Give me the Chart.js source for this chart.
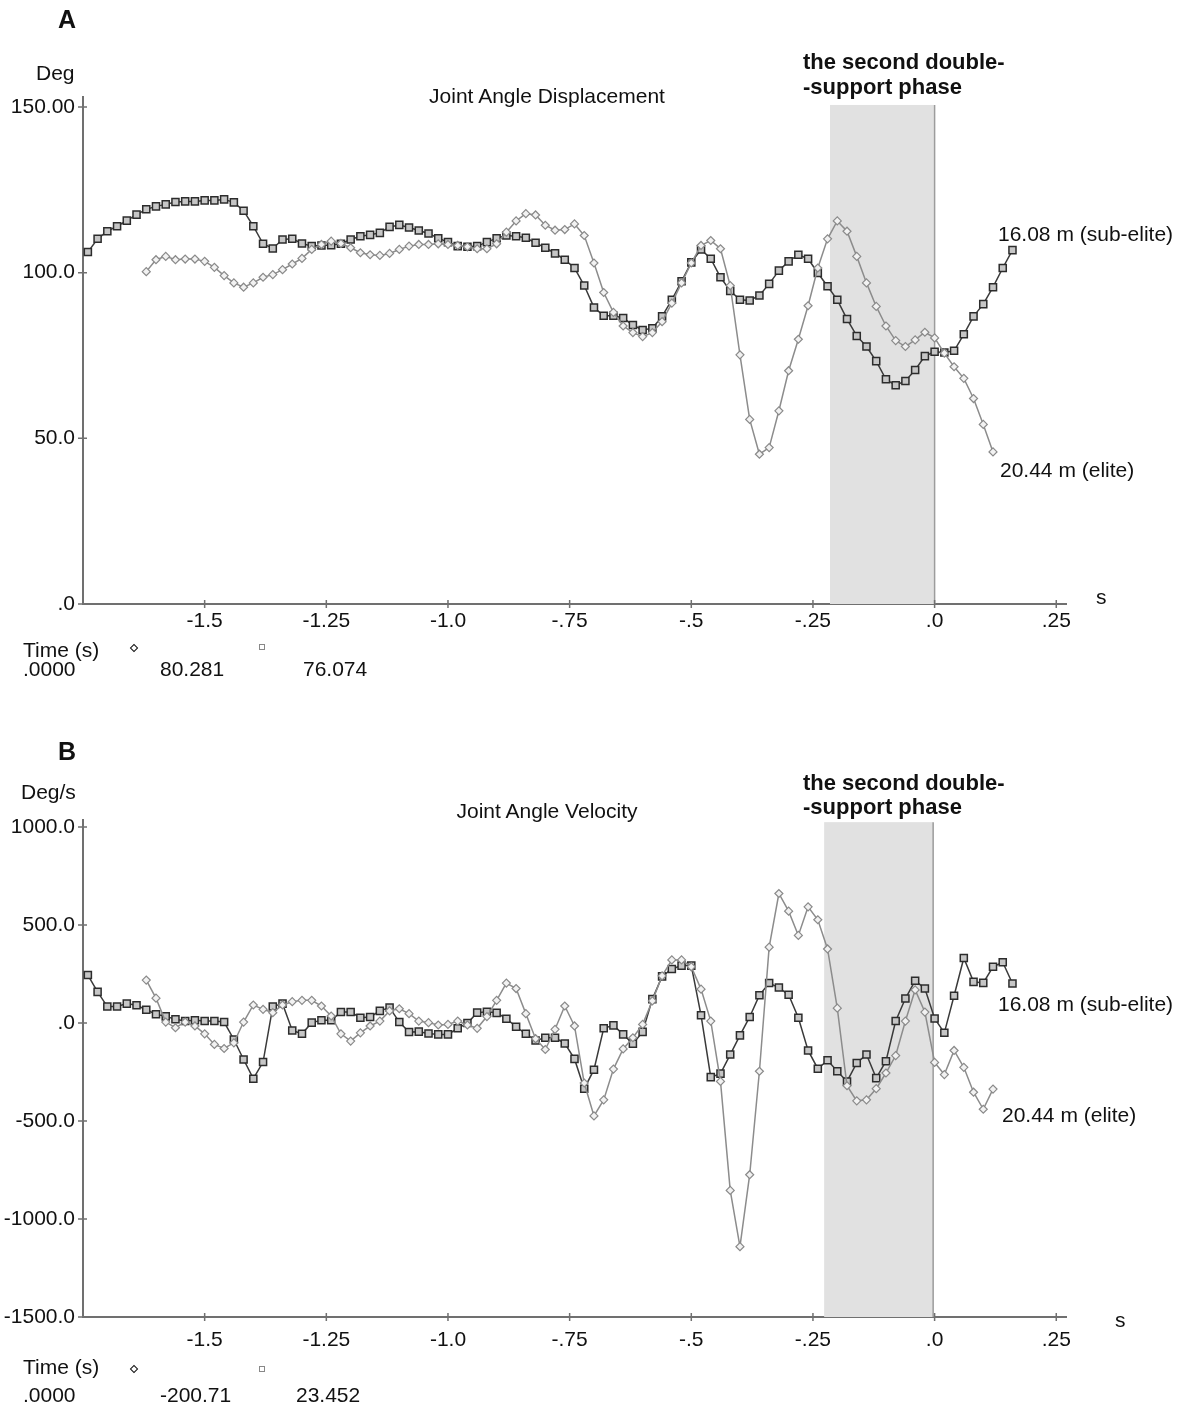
<!DOCTYPE html>
<html>
<head>
<meta charset="utf-8">
<script src="https://cdn.jsdelivr.net/npm/chart.js@4.4.0/dist/chart.umd.min.js"></script>
<style>
  body { margin: 0; background: #fff; width: 1183px; height: 1407px; position: relative; overflow: hidden;
         font-family: 'Liberation Sans', Arial, sans-serif; color: #111; }
  canvas { position: absolute; left: 0; }
  .txt { position: absolute; white-space: nowrap; font-size: 21px; line-height: 1; }
  .bold { font-weight: bold; }
  .big { font-size: 25px; }
  .phase { font-size: 22px; }
  .dia { position: absolute; width: 4px; height: 4px; border: 1.5px solid #111; transform: rotate(45deg); background: #fff; }
  .sq { position: absolute; width: 4px; height: 4px; border: 1.2px solid #888; background: #fff; }
</style>
</head>
<body>
<canvas id="chart-disp" width="1183" height="700" style="top:0"></canvas>
<canvas id="chart-vel" width="1183" height="707" style="top:700px"></canvas>

<div class="txt bold big" style="left:58px; top:7px">A</div>
<div class="txt" style="left:36px; top:62px">Deg</div>
<div class="txt" style="left:547px; top:85px; transform:translateX(-50%)">Joint Angle Displacement</div>
<div class="txt bold phase" style="left:803px; top:51px">the second double-</div>
<div class="txt bold phase" style="left:803px; top:76px">-support phase</div>
<div class="txt" style="left:998px; top:223px">16.08 m (sub-elite)</div>
<div class="txt" style="left:1000px; top:459px">20.44 m (elite)</div>
<div class="txt" style="left:1096px; top:586px">s</div>
<div class="txt" style="left:23px; top:639px">Time (s)</div>
<div class="dia" style="left:131px; top:645px"></div>
<div class="sq" style="left:259px; top:644px"></div>
<div class="txt" style="left:23px; top:658px">.0000</div>
<div class="txt" style="left:160px; top:658px">80.281</div>
<div class="txt" style="left:303px; top:658px">76.074</div>

<div class="txt bold big" style="left:58px; top:739px">B</div>
<div class="txt" style="left:21px; top:781px">Deg/s</div>
<div class="txt" style="left:547px; top:800px; transform:translateX(-50%)">Joint Angle Velocity</div>
<div class="txt bold phase" style="left:803px; top:772px">the second double-</div>
<div class="txt bold phase" style="left:803px; top:796px">-support phase</div>
<div class="txt" style="left:998px; top:993px">16.08 m (sub-elite)</div>
<div class="txt" style="left:1002px; top:1104px">20.44 m (elite)</div>
<div class="txt" style="left:1115px; top:1309px">s</div>
<div class="txt" style="left:23px; top:1356px">Time (s)</div>
<div class="dia" style="left:131px; top:1366px"></div>
<div class="sq" style="left:259px; top:1366px"></div>
<div class="txt" style="left:23px; top:1384px">.0000</div>
<div class="txt" style="left:160px; top:1384px">-200.71</div>
<div class="txt" style="left:296px; top:1384px">23.452</div>

<script>
// sample times (s), 0 = end of second double-support phase
const sampleTimes = [
  -1.74, -1.72, -1.70, -1.68, -1.66, -1.64, -1.62, -1.60, -1.58, -1.56,
  -1.54, -1.52, -1.50, -1.48, -1.46, -1.44, -1.42, -1.40, -1.38, -1.36,
  -1.34, -1.32, -1.30, -1.28, -1.26, -1.24, -1.22, -1.20, -1.18, -1.16,
  -1.14, -1.12, -1.10, -1.08, -1.06, -1.04, -1.02, -1.00, -0.98, -0.96,
  -0.94, -0.92, -0.90, -0.88, -0.86, -0.84, -0.82, -0.80, -0.78, -0.76,
  -0.74, -0.72, -0.70, -0.68, -0.66, -0.64, -0.62, -0.60, -0.58, -0.56,
  -0.54, -0.52, -0.50, -0.48, -0.46, -0.44, -0.42, -0.40, -0.38, -0.36,
  -0.34, -0.32, -0.30, -0.28, -0.26, -0.24, -0.22, -0.20, -0.18, -0.16,
  -0.14, -0.12, -0.10, -0.08, -0.06, -0.04, -0.02, 0.00, 0.02, 0.04,
  0.06, 0.08, 0.10, 0.12, 0.14, 0.16
];

// joint angle displacement (deg)
const angleSubElite = [
  106.2, 110.2, 112.5, 114.0, 115.7, 117.5, 119.1, 120.0, 120.6, 121.3,
  121.5, 121.5, 121.8, 121.8, 122.1, 121.2, 118.7, 114.0, 108.7, 107.3,
  110.0, 110.2, 108.8, 108.0, 108.2, 108.3, 108.7, 110.0, 111.0, 111.4,
  112.0, 113.8, 114.4, 113.6, 112.7, 111.8, 110.4, 109.2, 108.0, 107.8,
  108.0, 109.2, 110.4, 111.2, 111.0, 110.5, 109.0, 107.5, 105.8, 103.9,
  101.4, 96.1, 89.5, 87.0, 87.0, 86.3, 84.2, 82.7, 83.2, 86.8,
  91.8, 97.4, 103.1, 107.0, 104.2, 98.6, 94.5, 91.8, 91.6, 93.1,
  96.6, 100.6, 103.4, 105.4, 104.2, 99.9, 95.9, 91.8, 86.0, 80.9,
  77.7, 73.3, 67.8, 66.0, 67.3, 70.6, 74.8, 76.1, 75.9, 76.4,
  81.4, 86.8, 90.5, 95.6, 101.4, 106.8
];
const angleElite = [
  null, null, null, null, null, null, 100.3, 103.9, 104.9, 103.9,
  104.1, 104.1, 103.4, 101.6, 99.1, 96.9, 95.6, 96.9, 98.6, 99.4,
  100.9, 102.6, 104.3, 107.0, 108.5, 109.5, 108.8, 107.5, 106.0, 105.4,
  105.2, 105.8, 107.0, 108.0, 108.5, 108.5, 108.7, 108.5, 108.2, 107.8,
  107.2, 107.2, 108.7, 112.2, 115.6, 117.8, 117.4, 114.3, 112.8, 113.0,
  114.7, 111.2, 102.9, 94.0, 88.0, 83.9, 81.9, 80.7, 81.9, 85.2,
  90.8, 96.9, 102.9, 108.2, 109.7, 107.2, 96.1, 75.2, 55.7, 45.2,
  47.2, 58.3, 70.4, 79.9, 90.0, 101.4, 110.2, 115.6, 112.5, 104.9,
  96.9, 89.8, 83.9, 79.5, 77.7, 79.7, 82.0, 80.3, 75.7, 71.6,
  68.1, 62.0, 54.2, 45.9, null, null
];

// joint angle velocity (deg/s)
const velocitySubElite = [
  245, 159, 84, 84, 99, 91, 68, 45, 34, 19,
  10, 14, 10, 10, 5, -84, -186, -284, -199, 84,
  99, -38, -55, 2, 14, 14, 56, 56, 27, 31,
  62, 79, 5, -46, -44, -53, -58, -58, -27, 0,
  53, 57, 52, 22, -19, -55, -89, -75, -75, -104,
  -183, -335, -238, -27, -12, -58, -106, -45, 122, 238,
  276, 293, 293, 40, -276, -258, -161, -63, 31, 142,
  204, 181, 144, 27, -140, -233, -190, -246, -298, -204,
  -161, -281, -195, 10, 125, 216, 176, 23, -50, 139,
  332, 210, 205, 287, 310, 202
];
const velocityElite = [
  null, null, null, null, null, null, 219, 127, 5, -24,
  5, -15, -55, -109, -130, -101, 5, 92, 70, 53,
  92, 109, 116, 116, 87, 36, -55, -92, -50, -15,
  10, 62, 73, 48, 10, 2, -10, -7, 10, -10,
  -27, 33, 116, 204, 176, 48, -80, -135, -32, 87,
  -15, -306, -474, -392, -235, -132, -75, -7, 113, 241,
  322, 322, 287, 173, 10, -298, -854, -1141, -774, -246,
  387, 661, 571, 447, 593, 527, 378, 76, -320, -397,
  -392, -335, -255, -166, 10, 169, 56, -201, -263, -140,
  -226, -353, -440, -337, null, null
];

const xTickValues = [-1.5, -1.25, -1.0, -0.75, -0.5, -0.25, 0, 0.25];
const xTickLabels = ['-1.5', '-1.25', '-1.0', '-.75', '-.5', '-.25', '.0', '.25'];

const angleTickValues = [0, 50, 100, 150];
const angleTickLabels = ['.0', '50.0', '100.0', '150.00'];

const velocityTickValues = [-1500, -1000, -500, 0, 500, 1000];
const velocityTickLabels = ['-1500.0', '-1000.0', '-500.0', '.0', '500.0', '1000.0'];

const FONT = "'Liberation Sans', Arial, sans-serif";
const AXIS_COLOR = '#707070';

// shaded second double-support phase, drawn under the lines
const phaseBand = {
  id: 'phaseBand',
  beforeDatasetsDraw(chart, args, opts) {
    const { ctx, scales: { x, y } } = chart;
    const left = x.getPixelForValue(opts.from);
    const right = x.getPixelForValue(opts.to);
    const top = y.getPixelForValue(opts.top);
    const bottom = y.getPixelForValue(y.min);
    ctx.save();
    ctx.fillStyle = '#e1e1e1';
    ctx.fillRect(left, top, right - left, bottom - top);
    ctx.strokeStyle = '#9c9c9c';
    ctx.lineWidth = 1.5;
    ctx.beginPath();
    ctx.moveTo(right, top);
    ctx.lineTo(right, bottom);
    ctx.stroke();
    ctx.restore();
  },
};

// small tick marks that cross the axis lines
const crossTicks = {
  id: 'crossTicks',
  afterDraw(chart) {
    const { ctx, chartArea, scales: { x, y } } = chart;
    ctx.save();
    ctx.strokeStyle = AXIS_COLOR;
    ctx.lineWidth = 1.5;
    ctx.beginPath();
    x.ticks.forEach((t) => {
      const px = x.getPixelForValue(t.value);
      ctx.moveTo(px, chartArea.bottom - 4);
      ctx.lineTo(px, chartArea.bottom + 4);
    });
    y.ticks.forEach((t) => {
      const py = y.getPixelForValue(t.value);
      ctx.moveTo(chartArea.left - 5, py);
      ctx.lineTo(chartArea.left + 4, py);
    });
    ctx.stroke();
    ctx.restore();
  },
};

function seriesPoints(values) {
  return sampleTimes.map((t, i) => ({ x: t, y: values[i] }));
}

function buildConfig(subElite, elite, yMin, yMax, yTicks, yLabels, band, padTop, xHeight, xPad) {
  return {
    type: 'line',
    data: {
      datasets: [
        {
          label: '20.44 m (elite)',
          data: seriesPoints(elite),
          borderColor: '#8c8c8c',
          borderWidth: 1.5,
          pointStyle: 'rectRot',
          pointRadius: 4,
          pointBorderWidth: 1.2,
          pointBorderColor: '#8a8a8a',
          pointBackgroundColor: '#f2f2f2',
          tension: 0,
        },
        {
          label: '16.08 m (sub-elite)',
          data: seriesPoints(subElite),
          borderColor: '#3a3a3a',
          borderWidth: 1.5,
          pointStyle: 'rect',
          pointRadius: 5,
          pointBorderWidth: 1.5,
          pointBorderColor: '#2c2c2c',
          pointBackgroundColor: '#c6c6c6',
          tension: 0,
        },
      ],
    },
    options: {
      responsive: false,
      animation: false,
      events: [],
      layout: { padding: { left: 0, right: 117, top: padTop, bottom: 0 } },
      plugins: {
        legend: { display: false },
        tooltip: { enabled: false },
        phaseBand: band,
      },
      scales: {
        x: {
          type: 'linear',
          min: -1.75,
          max: 0.27,
          afterBuildTicks: (s) => { s.ticks = xTickValues.map((v) => ({ value: v })); },
          afterFit: (s) => { s.height = xHeight; },
          ticks: {
            callback: (v, i) => xTickLabels[i],
            autoSkip: false,
            maxRotation: 0,
            padding: xPad,
            color: '#111',
            font: { family: FONT, size: 21 },
          },
          grid: { drawOnChartArea: false, drawTicks: false },
          border: { color: AXIS_COLOR, width: 2 },
        },
        y: {
          min: yMin,
          max: yMax,
          afterBuildTicks: (s) => { s.ticks = yTicks.map((v) => ({ value: v })); },
          afterFit: (s) => { s.width = 83; },
          ticks: {
            callback: (v, i) => yLabels[i],
            padding: 8,
            color: '#111',
            font: { family: FONT, size: 21 },
          },
          grid: { drawOnChartArea: false, drawTicks: false },
          border: { color: AXIS_COLOR, width: 2 },
        },
      },
    },
    plugins: [phaseBand, crossTicks],
  };
}

new Chart(
  document.getElementById('chart-disp').getContext('2d'),
  buildConfig(angleSubElite, angleElite, 0, 153, angleTickValues, angleTickLabels,
    { from: -0.215, to: 0, top: 150.6 }, 97, 96, 5)
);

new Chart(
  document.getElementById('chart-vel').getContext('2d'),
  buildConfig(velocitySubElite, velocityElite, -1500, 1036, velocityTickValues, velocityTickLabels,
    { from: -0.227, to: -0.003, top: 1025 }, 120, 90, 11)
);
</script>
</body>
</html>
